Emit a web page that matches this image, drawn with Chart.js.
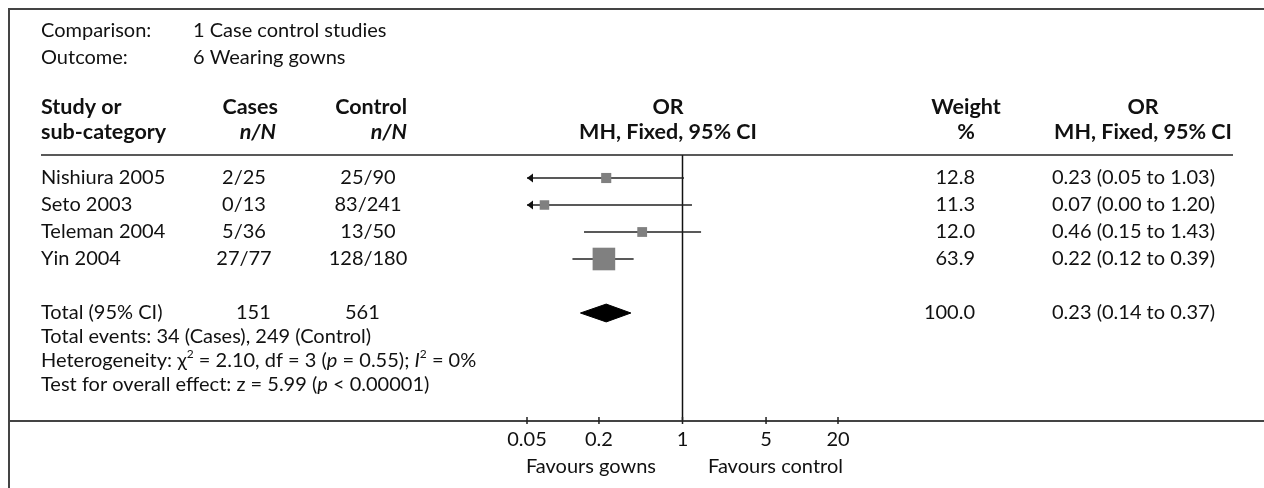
<!DOCTYPE html>
<html>
<head>
<meta charset="utf-8">
<script src="https://cdn.jsdelivr.net/npm/chart.js@4"></script>
<style>
  html, body { margin: 0; background: #fff; }
  #wrap { width: 1264px; height: 488px; position: relative; }
</style>
</head>
<body>
<div id="wrap"><canvas id="forest"></canvas></div>
<script>
const STUDIES = ['Nishiura 2005', 'Seto 2003', 'Teleman 2004', 'Yin 2004'];
const CASE_EVENTS = [2, 0, 5, 27];
const CASE_TOTALS = [25, 13, 36, 77];
const CONTROL_EVENTS = [25, 83, 13, 128];
const CONTROL_TOTALS = [90, 241, 50, 180];
const WEIGHTS = [12.8, 11.3, 12.0, 63.9];
const ODDS_RATIOS = [0.23, 0.07, 0.46, 0.22];
const CI_LOWER = [0.05, 0.00, 0.15, 0.12];
const CI_UPPER = [1.03, 1.20, 1.43, 0.39];

const TOTAL_CASES = 151;
const TOTAL_CONTROLS = 561;
const TOTAL_WEIGHT = 100.0;
const TOTAL_OR = 0.23;
const TOTAL_LOWER = 0.14;
const TOTAL_UPPER = 0.37;

const AXIS_TICKS = [0.05, 0.2, 1, 5, 20];

// layout
const FONT_FAMILY = 'Lato, "Open Sans", sans-serif';
const FONT_SIZE = 20;
const HEAD_SIZE = 21.5;
const X_MIN = 0.05, X_MAX = 20;
const Y_TOP = -0.852, Y_BOTTOM = 9;   // row units, study rows are 0..3
const TOTAL_ROW = 5;
const DIAMOND_HALF = 0.33;

const font = (weight, style, size) =>
  `${style || 'normal'} ${weight || 'normal'} ${size || FONT_SIZE}px ${FONT_FAMILY}`;
const fmt2 = v => v.toFixed(2);
const orText = (or, lo, hi) => `${fmt2(or)} (${fmt2(lo)} to ${fmt2(hi)})`;

const drawText = (ctx, text, x, y, align, f) => {
  ctx.font = f || font();
  ctx.textAlign = align || 'left';
  ctx.fillText(text, x, y);
};

// mixed runs of text: plain, italic, superscript
const drawRich = (ctx, parts, x, y) => {
  ctx.textAlign = 'left';
  parts.forEach(p => {
    if (p.sup) {
      ctx.font = font('normal', 'normal', FONT_SIZE * 0.6);
      ctx.fillText(p.t, x, y - 7);
    } else {
      ctx.font = p.it ? font('normal', 'italic') : font();
      ctx.fillText(p.t, x, y);
    }
    x += ctx.measureText(p.t).width;
  });
};

const forestTable = {
  id: 'forestTable',
  afterDraw(chart) {
    const ctx = chart.ctx;
    const xs = chart.scales.x, ys = chart.scales.y;
    const area = chart.chartArea;
    ctx.save();
    ctx.fillStyle = '#111';
    ctx.textBaseline = 'middle';

    // frame and rules
    ctx.strokeStyle = '#444';
    ctx.lineWidth = 2;
    ctx.beginPath();
    ctx.moveTo(9, 488); ctx.lineTo(9, 9); ctx.lineTo(1264, 9);
    ctx.moveTo(9, area.bottom); ctx.lineTo(1264, area.bottom);
    ctx.stroke();
    ctx.strokeStyle = '#222';
    ctx.lineWidth = 1.5;
    ctx.beginPath();
    ctx.moveTo(41, area.top); ctx.lineTo(1233, area.top);
    ctx.stroke();

    // axis tick marks
    ctx.lineWidth = 1.5;
    ctx.beginPath();
    AXIS_TICKS.forEach(v => {
      const px = xs.getPixelForValue(v);
      ctx.moveTo(px, area.bottom - 4); ctx.lineTo(px, area.bottom + 3);
    });
    ctx.stroke();

    // arrowheads for intervals running off the scale
    CI_LOWER.forEach((lo, i) => {
      if (lo > X_MIN) return;
      const px = xs.getPixelForValue(X_MIN), py = ys.getPixelForValue(i);
      ctx.beginPath();
      ctx.moveTo(px, py); ctx.lineTo(px + 6, py - 4.5); ctx.lineTo(px + 6, py + 4.5);
      ctx.closePath();
      ctx.fill();
    });

    // heading
    drawText(ctx, 'Comparison:', 41, 31);
    drawText(ctx, '1 Case control studies', 193, 31);
    drawText(ctx, 'Outcome:', 41, 58);
    drawText(ctx, '6 Wearing gowns', 193, 58);

    const b = font('bold', 'normal', HEAD_SIZE), bi = font('bold', 'italic', HEAD_SIZE);
    drawText(ctx, 'Study or', 41, 107, 'left', b);
    drawText(ctx, 'sub-category', 41, 132, 'left', b);
    drawText(ctx, 'Cases', 278, 107, 'right', b);
    drawText(ctx, 'n/N', 276, 132, 'right', bi);
    drawText(ctx, 'Control', 407, 107, 'right', b);
    drawText(ctx, 'n/N', 407, 132, 'right', bi);
    drawText(ctx, 'OR', 668, 107, 'center', b);
    drawText(ctx, 'MH, Fixed, 95% CI', 668, 132, 'center', b);
    drawText(ctx, 'Weight', 966, 107, 'center', b);
    drawText(ctx, '%', 966, 132, 'center', b);
    drawText(ctx, 'OR', 1143, 107, 'center', b);
    drawText(ctx, 'MH, Fixed, 95% CI', 1143, 132, 'center', b);

    // study rows
    STUDIES.forEach((name, i) => {
      const py = ys.getPixelForValue(i);
      drawText(ctx, name, 41, py);
      drawText(ctx, `${CASE_EVENTS[i]}/${CASE_TOTALS[i]}`, 244, py, 'center');
      drawText(ctx, `${CONTROL_EVENTS[i]}/${CONTROL_TOTALS[i]}`, 368, py, 'center');
      drawText(ctx, WEIGHTS[i].toFixed(1), 975, py, 'right');
      drawText(ctx, orText(ODDS_RATIOS[i], CI_LOWER[i], CI_UPPER[i]), 1052, py);
    });

    // pooled row and footnotes
    const ty = ys.getPixelForValue(TOTAL_ROW);
    drawText(ctx, 'Total (95% CI)', 41, ty);
    drawText(ctx, String(TOTAL_CASES), 236, ty);
    drawText(ctx, String(TOTAL_CONTROLS), 345, ty);
    drawText(ctx, TOTAL_WEIGHT.toFixed(1), 975, ty, 'right');
    drawText(ctx, orText(TOTAL_OR, TOTAL_LOWER, TOTAL_UPPER), 1052, ty);

    const sumCases = CASE_EVENTS.reduce((a, v) => a + v, 0);
    const sumControls = CONTROL_EVENTS.reduce((a, v) => a + v, 0);
    drawText(ctx, `Total events: ${sumCases} (Cases), ${sumControls} (Control)`, 41, ty + 24);
    drawRich(ctx, [
      { t: 'Heterogeneity: \u03c7' }, { t: '2', sup: true },
      { t: ' = 2.10, df = 3 (' }, { t: 'p', it: true }, { t: ' = 0.55); ' },
      { t: 'I', it: true }, { t: '2', sup: true }, { t: ' = 0%' }
    ], 41, ty + 48);
    drawRich(ctx, [
      { t: 'Test for overall effect: z = 5.99 (' }, { t: 'p', it: true }, { t: ' < 0.00001)' }
    ], 41, ty + 72);

    // direction labels under the axis
    drawText(ctx, 'Favours gowns', 656, 467, 'right');
    drawText(ctx, 'Favours control', 708, 467, 'left');
    ctx.restore();
  }
};

const ciSets = STUDIES.map((name, i) => ({
  type: 'line',
  label: name,
  data: [{ x: Math.max(CI_LOWER[i], X_MIN), y: i }, { x: CI_UPPER[i], y: i }],
  borderColor: '#222',
  borderWidth: 1.5,
  pointRadius: 0,
  order: 2
}));

const squares = {
  type: 'scatter',
  label: 'OR',
  data: ODDS_RATIOS.map((v, i) => ({ x: v, y: i })),
  pointStyle: 'rect',
  pointRadius: WEIGHTS.map(w => 2 * Math.sqrt(w)),
  backgroundColor: '#808080',
  borderWidth: 0,
  order: 0
};

const diamond = {
  type: 'line',
  label: 'Total',
  data: [
    { x: TOTAL_LOWER, y: TOTAL_ROW },
    { x: TOTAL_OR, y: TOTAL_ROW - DIAMOND_HALF },
    { x: TOTAL_UPPER, y: TOTAL_ROW },
    { x: TOTAL_OR, y: TOTAL_ROW + DIAMOND_HALF },
    { x: TOTAL_LOWER, y: TOTAL_ROW }
  ],
  borderColor: '#000',
  backgroundColor: '#000',
  borderWidth: 1,
  fill: 'shape',
  pointRadius: 0,
  order: 0
};

const nullLine = {
  type: 'line',
  label: 'No effect',
  data: [{ x: 1, y: Y_TOP }, { x: 1, y: Y_BOTTOM }],
  borderColor: '#111',
  borderWidth: 1.5,
  pointRadius: 0,
  order: 3
};

new Chart(document.getElementById('forest'), {
  type: 'scatter',
  data: { datasets: [nullLine, ...ciSets, squares, diamond] },
  options: {
    responsive: true,
    maintainAspectRatio: false,
    animation: false,
    events: [],
    layout: { padding: { left: 527, right: 1264 - 838, top: 155, bottom: 0 } },
    plugins: { legend: { display: false }, tooltip: { enabled: false } },
    scales: {
      x: {
        type: 'logarithmic',
        min: X_MIN,
        max: X_MAX,
        afterBuildTicks: axis => { axis.ticks = AXIS_TICKS.map(v => ({ value: v })); },
        afterFit: axis => { axis.height = 67; },
        ticks: {
          autoSkip: false,
          maxRotation: 0,
          padding: 7,
          color: '#111',
          font: { family: FONT_FAMILY, size: FONT_SIZE },
          callback: v => String(v)
        },
        grid: { display: false, drawTicks: false },
        border: { display: false }
      },
      y: {
        type: 'linear',
        min: Y_TOP,
        max: Y_BOTTOM,
        reverse: true,
        display: false
      }
    }
  },
  plugins: [forestTable]
});
</script>
</body>
</html>
